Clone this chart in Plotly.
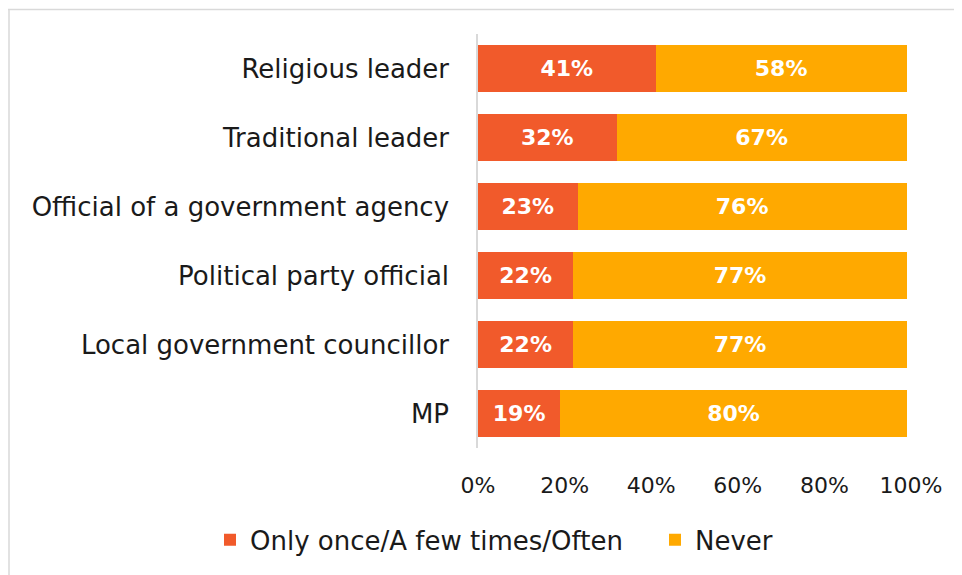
import plotly.graph_objects as go

categories = ["Religious leader", "Traditional leader", "Official of a government agency",
              "Political party official", "Local government councillor", "MP"]
contacted = [41, 32, 23, 22, 22, 19]
never = [58, 67, 76, 77, 77, 80]
series_names = ["Only once/A few times/Often", "Never"]
colors = ["#F15A2B", "#FFA900"]
tick_vals = [0, 20, 40, 60, 80, 100]
tick_text = ["0%", "20%", "40%", "60%", "80%", "100%"]

FONT = "DejaVu Sans"

fig = go.Figure()
for name, vals, col, lg in zip(series_names, [contacted, never], colors, ["legend", "legend2"]):
    fig.add_trace(go.Bar(
        y=categories, x=vals, name=name, orientation="h", legend=lg,
        marker=dict(color=col, line=dict(width=0)),
        text=[f"<b>{v}%</b>" for v in vals], texttemplate="%{text}",
        textposition="inside", insidetextanchor="middle", textangle=0,
        textfont=dict(color="white", size=22, family=FONT),
        hoverinfo="skip",
    ))

W = 433
legend_common = dict(orientation="h", xref="paper", xanchor="left",
                     yref="paper", y=-0.222, yanchor="middle",
                     font=dict(size=26, family=FONT), bgcolor="rgba(0,0,0,0)")
fig.update_layout(
    barmode="stack", bargap=0.333,
    width=954, height=567,
    margin=dict(l=470, r=954 - 470 - W, t=26, b=127),
    paper_bgcolor="white", plot_bgcolor="white",
    font=dict(family=FONT, color="#1a1a1a", size=20),
    showlegend=True,
    legend=dict(x=(202 - 470) / W, **legend_common),
    legend2=dict(x=(647 - 470) / W, **legend_common),
    xaxis=dict(range=[0, 100], tickvals=tick_vals, ticktext=tick_text, showgrid=False,
               zeroline=False, showline=False, ticks="", tickfont=dict(size=22),
               ticklabelstandoff=22, automargin=False),
    yaxis=dict(categoryorder="array", categoryarray=categories[::-1],
               showline=True, linecolor="#D9D9D9", linewidth=1.5, ticks="",
               ticklabelstandoff=22, tickfont=dict(size=26), showgrid=False,
               automargin=False),
    shapes=[
        dict(type="line", xref="paper", yref="paper", x0=-470 / W, x1=1.2, y0=1.059, y1=1.059,
             line=dict(color="#D9D9D9", width=1.5)),
        dict(type="line", xref="paper", yref="paper", x0=-469 / W, x1=-469 / W, y0=1.059, y1=-0.35,
             line=dict(color="#D9D9D9", width=1.5)),
    ],
)

fig.write_html("out.html")
